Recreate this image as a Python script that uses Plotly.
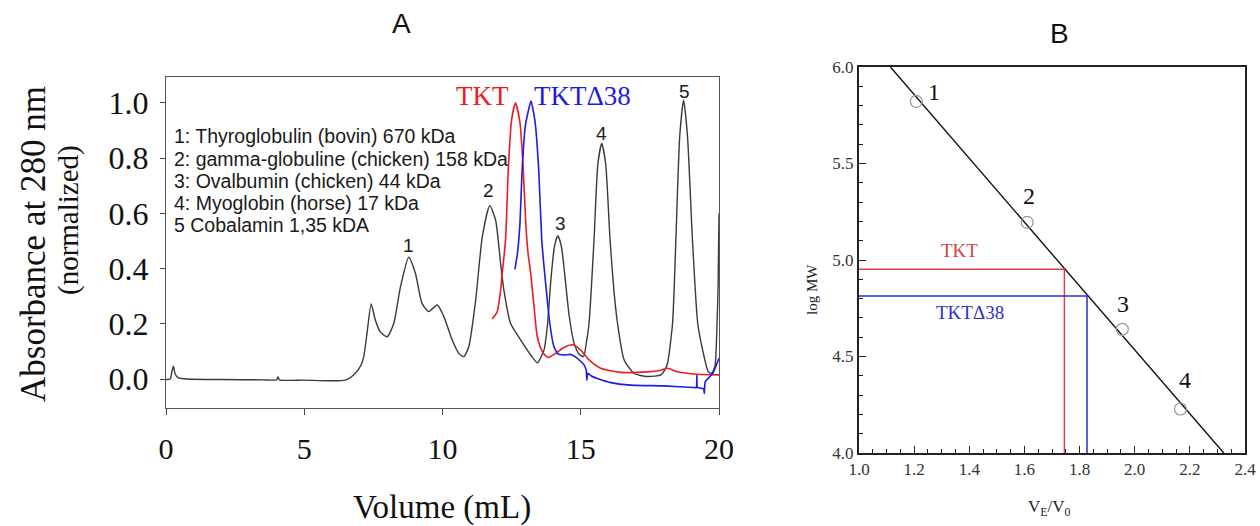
import plotly.graph_objects as go

# ---------------- Panel A: elution profiles ----------------
std_volume = [0.0, 0.15, 0.22, 0.27, 0.33, 0.45, 0.8, 2.0, 3.5, 4.0, 4.05, 4.1, 5.0, 6.49,
              6.85, 7.05, 7.15, 7.27, 7.42, 7.57, 7.75, 8.0, 8.24, 8.48, 8.78, 9.02, 9.26,
              9.5, 9.81, 10.05, 10.35, 10.59, 10.77, 10.95, 11.2, 11.44, 11.71, 11.92, 12.1,
              12.22, 12.46, 12.83, 13.19, 13.43, 13.67, 13.8, 13.92, 14.05, 14.17, 14.3,
              14.42, 14.58, 14.76, 14.94, 15.1, 15.2, 15.3, 15.48, 15.62, 15.76, 15.9, 16.06,
              16.2, 16.33, 16.57, 16.93, 17.41, 17.9, 18.05, 18.14, 18.32, 18.44, 18.58,
              18.72, 18.86, 19.04, 19.23, 19.41, 19.61, 19.73, 19.85, 19.93, 19.97, 20.0]
std_abs = [-0.002, 0.0, 0.03, 0.046, 0.018, 0.004, 0.0, -0.002, -0.003, -0.003, 0.008, -0.003,
           -0.004, -0.004, 0.021, 0.05, 0.08, 0.166, 0.272, 0.214, 0.171, 0.153, 0.202, 0.334,
           0.441, 0.383, 0.274, 0.244, 0.268, 0.226, 0.141, 0.093, 0.081, 0.117, 0.286, 0.516,
           0.628, 0.576, 0.42, 0.322, 0.202, 0.141, 0.087, 0.059, 0.105, 0.2, 0.36, 0.48,
           0.519, 0.48, 0.38, 0.23, 0.13, 0.09, 0.081, 0.13, 0.202, 0.504, 0.78, 0.853, 0.78,
           0.504, 0.32, 0.202, 0.069, 0.02, 0.009, 0.015, 0.035, 0.057, 0.202, 0.504, 0.88,
           1.01, 0.88, 0.504, 0.202, 0.104, 0.027, 0.02, 0.045, 0.202, 0.347, 0.6]

tkt_volume = [11.8, 11.98, 12.1, 12.16, 12.28, 12.38, 12.5, 12.64, 12.8, 12.92, 13.02, 13.1,
              13.19, 13.31, 13.43, 13.61, 13.81, 14.09, 14.4, 14.7, 15.0, 15.3, 15.72, 16.45,
              17.41, 17.9, 18.14, 18.5, 19.23, 20.0]
tkt_abs = [0.217, 0.244, 0.32, 0.383, 0.504, 0.76, 0.94, 1.0, 0.93, 0.76, 0.55, 0.45, 0.383,
           0.262, 0.153, 0.099, 0.078, 0.093, 0.115, 0.124, 0.105, 0.069, 0.039, 0.024, 0.026,
           0.032, 0.039, 0.026, 0.017, 0.015]

d38_volume = [12.62, 12.71, 12.8, 12.88, 13.0, 13.2, 13.35, 13.48, 13.59, 13.73, 13.88, 14.03,
              14.17, 14.4, 14.64, 14.88, 15.12, 15.2, 15.22, 15.26, 15.4, 15.6, 16.09, 16.81,
              18.02, 19.11, 19.18, 19.2, 19.22, 19.44, 19.47, 19.5, 19.77, 20.0]
d38_abs = [0.397, 0.455, 0.56, 0.757, 0.92, 1.008, 0.93, 0.757, 0.504, 0.347, 0.202, 0.117,
           0.091, 0.087, 0.089, 0.075, 0.051, 0.03, -0.004, 0.021, 0.01, 0.002, -0.013, -0.022,
           -0.025, -0.031, -0.031, 0.014, -0.031, -0.035, -0.052, -0.01, 0.02, 0.075]

peak_labels = ["1", "2", "3", "4", "5"]
peak_label_x = [8.78, 11.68, 14.25, 15.76, 18.74]
peak_label_y = [0.482, 0.682, 0.564, 0.89, 1.041]

standard_names = ["1: Thyroglobulin (bovin) 670 kDa",
                  "2: gamma-globuline (chicken) 158 kDa",
                  "3: Ovalbumin (chicken) 44 kDa",
                  "4: Myoglobin (horse) 17 kDa",
                  "5 Cobalamin 1,35 kDA"]
standard_name_y = [0.88, 0.797, 0.717, 0.637, 0.557]
standard_name_x = 0.2

a_xticks = [0, 5, 10, 15, 20]
a_yticks = [0.0, 0.2, 0.4, 0.6, 0.8, 1.0]

# ---------------- Panel B: calibration ----------------
ve_v0 = [1.208, 1.61, 1.955, 2.166]
log_mw = [5.822, 5.195, 4.641, 4.228]
point_labels = ["1", "2", "3", "4"]
point_label_x = [1.272, 1.616, 1.958, 2.184]
point_label_y = [5.87, 5.333, 4.771, 4.376]
fit_x = [1.114, 2.323]
fit_y = [6.0, 4.0]
tkt_ve, tkt_logmw = 1.745, 4.952
d38_ve, d38_logmw = 1.827, 4.814
b_xticks = [1.0, 1.2, 1.4, 1.6, 1.8, 2.0, 2.2, 2.4]
b_yticks = [4.0, 4.5, 5.0, 5.5, 6.0]

BLACK = "#3a3a3a"
RED = "#ec1c24"
BLUE = "#1c1ce6"
RED_B = "#dc4048"
BLUE_B = "#2e2ed0"
SERIF = "Liberation Serif, Times New Roman, serif"
SANS = "Liberation Sans, Arial, sans-serif"

# the page's body margin is removed below, so the figure fills the 1260x526 window
OFF, W, H = 0, 1260, 526


def px_x(p):
    return (p - OFF) / W


def px_y(p):
    return 1 - (p - OFF) / H


fig = go.Figure()

fig.add_trace(go.Scatter(x=std_volume, y=std_abs, mode="lines", xaxis="x", yaxis="y",
                         line=dict(color=BLACK, width=1.4, shape="spline", smoothing=0.6),
                         showlegend=False))
fig.add_trace(go.Scatter(x=tkt_volume, y=tkt_abs, mode="lines", xaxis="x", yaxis="y",
                         line=dict(color=RED, width=1.6, shape="spline", smoothing=0.6),
                         showlegend=False))
fig.add_trace(go.Scatter(x=d38_volume, y=d38_abs, mode="lines", xaxis="x", yaxis="y",
                         line=dict(color=BLUE, width=1.6, shape="spline", smoothing=0.4),
                         showlegend=False))

# Panel B traces
fig.add_trace(go.Scatter(x=fit_x, y=fit_y, mode="lines", xaxis="x2", yaxis="y2",
                         line=dict(color="#111111", width=1.4), showlegend=False))
fig.add_trace(go.Scatter(x=[b_xticks[0], tkt_ve, tkt_ve], y=[tkt_logmw, tkt_logmw, b_yticks[0]],
                         mode="lines", xaxis="x2", yaxis="y2",
                         line=dict(color=RED_B, width=1.5), showlegend=False))
fig.add_trace(go.Scatter(x=[b_xticks[0], d38_ve, d38_ve], y=[d38_logmw, d38_logmw, b_yticks[0]],
                         mode="lines", xaxis="x2", yaxis="y2",
                         line=dict(color=BLUE_B, width=1.5), showlegend=False))
fig.add_trace(go.Scatter(x=ve_v0, y=log_mw, mode="markers", xaxis="x2", yaxis="y2",
                         marker=dict(symbol="circle-open", size=12, color="#9a9a9a",
                                     line=dict(width=1.2, color="#9a9a9a")),
                         showlegend=False))

ann = []


def add_text(x, y, text, size, family, color="#111111", xref="paper", yref="paper",
             xanchor="center", angle=0):
    ann.append(dict(x=x, y=y, xref=xref, yref=yref, text=text, showarrow=False,
                    xanchor=xanchor, yanchor="middle", textangle=angle,
                    font=dict(family=family, size=size, color=color)))


for nm, yy in zip(standard_names, standard_name_y):
    add_text(standard_name_x, yy, nm, 19.5, SANS, "#1a1a1a", "x", "y", xanchor="left")
for t, xx, yy in zip(peak_labels, peak_label_x, peak_label_y):
    add_text(xx, yy, t, 19, SANS, "#1a1a1a", "x", "y")
add_text(11.44, 1.025, "TKT", 27, SERIF, RED, "x", "y")
add_text(15.08, 1.025, "TKTΔ38", 27, SERIF, BLUE, "x", "y")
add_text(px_x(401), px_y(24), "A", 28, SANS)
add_text(px_x(1059), px_y(33), "B", 28, SANS)
add_text(px_x(34), px_y(244), "Absorbance at 280 nm", 35, SERIF, angle=-90)
add_text(px_x(68), px_y(220), "(normalized)", 29, SERIF, angle=-90)
add_text(px_x(442), px_y(507), "Volume (mL)", 33, SERIF)
# Panel B annotations
for t, xx, yy in zip(point_labels, point_label_x, point_label_y):
    add_text(xx, yy, t, 24, SERIF, "#111111", "x2", "y2")
add_text(1.365, 5.048, "TKT", 19, SERIF, RED_B, "x2", "y2")
add_text(1.404, 4.728, "TKTΔ38", 19, SERIF, BLUE_B, "x2", "y2")
add_text(px_x(812), px_y(290), "log MW", 15, SERIF, "#222222", angle=-90)
add_text(px_x(1049), px_y(508), "V<sub>E</sub>/V<sub>0</sub>", 17, SERIF, "#222222")

fig.update_layout(
    width=W, height=H, autosize=False,
    margin=dict(l=0, r=0, t=0, b=0, pad=0, autoexpand=False),
    paper_bgcolor="white", plot_bgcolor="white", annotations=ann,
    xaxis=dict(domain=[px_x(166), px_x(719)], range=[0, 20], tickvals=a_xticks,
               ticks="outside", ticklen=6, tickcolor="#444", showline=True, linecolor="#555",
               linewidth=1.2, mirror=True, showgrid=False, zeroline=False, automargin=False,
               tickfont=dict(family=SERIF, size=30, color="#111"), ticklabelstandoff=8,
               anchor="y"),
    yaxis=dict(domain=[px_y(408), px_y(77)], range=[-0.105, 1.094], tickvals=a_yticks,
               tickformat=".1f", ticks="outside", ticklen=5, tickcolor="#444", showline=True,
               linecolor="#555", linewidth=1.2, mirror=True, showgrid=False, zeroline=False,
               automargin=False,
               tickfont=dict(family=SERIF, size=32, color="#111"), ticklabelstandoff=5,
               anchor="x"),
    xaxis2=dict(domain=[px_x(859), px_x(1245)], range=[1.0, 2.4], tickvals=b_xticks,
                tickformat=".1f", ticks="inside", ticklen=7, tickcolor="#222", showline=True,
                linecolor="#222", linewidth=2, mirror=True, showgrid=False, zeroline=False,
                automargin=False, ticklabeloverflow="allow",
                minor=dict(dtick=0.05, ticks="inside", ticklen=4, tickcolor="#222"),
                tickfont=dict(family=SERIF, size=17, color="#333"), anchor="y2"),
    yaxis2=dict(domain=[px_y(453), px_y(67)], range=[4.0, 6.0], tickvals=b_yticks,
                tickformat=".1f", ticks="inside", ticklen=7, tickcolor="#222", showline=True,
                linecolor="#222", linewidth=2, mirror=True, showgrid=False, zeroline=False,
                automargin=False,
                minor=dict(dtick=0.1, ticks="inside", ticklen=4, tickcolor="#222"),
                tickfont=dict(family=SERIF, size=17, color="#333"), anchor="x2"),
)

fig.write_html(
    "out.html",
    config={"displayModeBar": False},
    post_script="document.body.style.margin='0px';document.body.style.overflow='hidden';",
)
